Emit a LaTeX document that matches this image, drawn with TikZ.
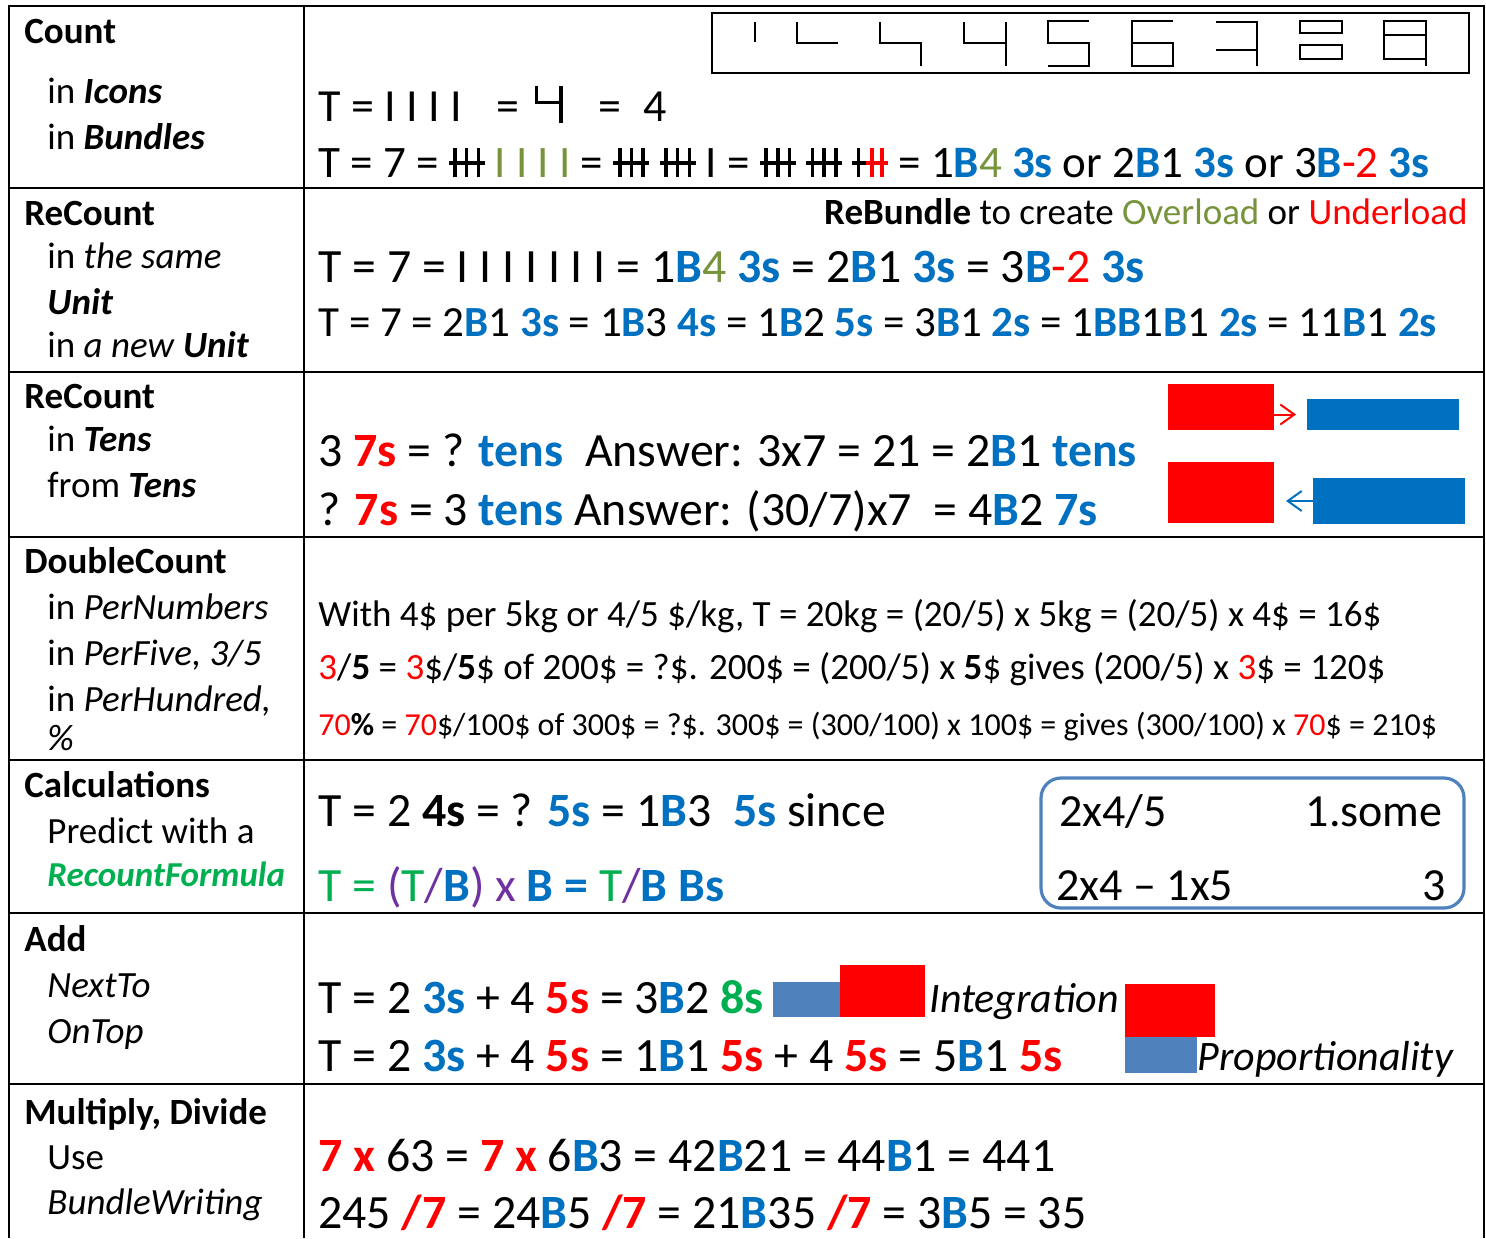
\documentclass[tikz,border=0pt]{standalone}
\usepackage{fontspec}
\setmainfont{Carlito}
\usetikzlibrary{arrows.meta}

\definecolor{tblue}{HTML}{0070C0}
\definecolor{tred}{HTML}{FF0000}
\definecolor{tgreen}{HTML}{00B050}
\definecolor{tolive}{HTML}{77933C}
\definecolor{tpurple}{HTML}{7030A0}
\definecolor{tsteel}{HTML}{4F81BD}

% coloured pieces of the equations
\newcommand\bB[1]{\textcolor{tblue}{\textbf{#1}}}
\newcommand\bR[1]{\textcolor{tred}{\textbf{#1}}}
\newcommand\bG[1]{\textcolor{tgreen}{\textbf{#1}}}
\newcommand\inred[1]{\textcolor{tred}{#1}}
\newcommand\inolive[1]{\textcolor{tolive}{#1}}
\newcommand\ingreen[1]{\textcolor{tgreen}{#1}}
\newcommand\inpurple[1]{\textcolor{tpurple}{#1}}

% bundle of strokes and the icon four
\newcommand\tallyfive{\rlap{\rule[0.27em]{0.8em}{0.08em}}\hspace{0.1em}%
  \rule{0.08em}{0.64em}\hspace{0.18em}\rule{0.08em}{0.64em}\hspace{0.18em}%
  \rule{0.08em}{0.64em}\hspace{0.1em}}
\newcommand\tallysplit{\rlap{\rule[0.27em]{0.3em}{0.08em}}\hspace{0.1em}%
  \rule{0.08em}{0.64em}\hspace{0.12em}\textcolor{tred}{%
  \rlap{\rule[0.27em]{0.5em}{0.08em}}\hspace{0.1em}\rule{0.08em}{0.64em}%
  \hspace{0.14em}\rule{0.08em}{0.64em}}\hspace{0.1em}}
\newcommand\fouricon{\rlap{\rule[0.36em]{0.07em}{0.41em}}%
  \rlap{\rule[0.36em]{0.6em}{0.07em}}\hspace{0.53em}%
  \rule[-0.05em]{0.07em}{0.82em}}

\tikzset{
  grid/.style={line width=1.1pt},
  icon/.style={line width=1pt},
  lefthead/.style={anchor=base west, inner sep=0pt,
    font=\fontsize{18.5}{22}\selectfont\bfseries},
  leftsub/.style={anchor=base west, inner sep=0pt,
    font=\fontsize{18.5}{22}\selectfont},
  eqn/.style={anchor=base west, inner sep=0pt,
    font=\fontsize{21.5}{26}\selectfont},
  eqnbig/.style={anchor=base west, inner sep=0pt,
    font=\fontsize{23.9}{28}\selectfont},
  pertxt/.style={anchor=base west, inner sep=0pt,
    font=\fontsize{18.5}{22}\selectfont},
  pertxtsm/.style={anchor=base west, inner sep=0pt,
    font=\fontsize{16}{19}\selectfont},
  boxtxt/.style={inner sep=0pt, font=\fontsize{23}{27}\selectfont},
  slanttxt/.style={anchor=base west, inner sep=0pt,
    font=\fontsize{21}{25}\selectfont\itshape},
  block/.style={inner sep=0pt, outer sep=0pt},
  arr/.style={-{Straight Barb[length=7pt, width=10pt]}, line width=1pt},
}

\begin{document}
\begin{tikzpicture}[x=0.5pt, y=-0.5pt]
  \useasboundingbox (0,0) rectangle (1486,1238);

  % table
  \draw [grid] (9,1238) -- (9,6) -- (1484,6) -- (1484,1238);
  \draw [grid] (304,6) -- (304,1238);
  \draw [grid] (9,188) -- (1484,188);
  \draw [grid] (9,372) -- (1484,372);
  \draw [grid] (9,537) -- (1484,537);
  \draw [grid] (9,760) -- (1484,760);
  \draw [grid] (9,913) -- (1484,913);
  \draw [grid] (9,1084) -- (1484,1084);

  % left column
  \node [lefthead] (cnt) at (24,43) {Count};
  \node [leftsub] (cntIcons) at (47,103) {in \textbf{\textit{Icons}}};
  \node [leftsub] (cntBundles) at (47,149) {in \textbf{\textit{Bundles}}};

  \node [lefthead] (rc) at (24,225) {ReCount};
  \node [leftsub] (rcSame) at (47,268) {in \textit{the same}};
  \node [leftsub] (rcUnit) at (47,314) {\textbf{\textit{Unit}}};
  \node [leftsub] (rcNew) at (47,357) {in \textit{a new} \textbf{\textit{Unit}}};

  \node [lefthead] (rt) at (24,408) {ReCount};
  \node [leftsub] (rtIn) at (47,451) {in \textbf{\textit{Tens}}};
  \node [leftsub] (rtFrom) at (47,497) {from \textbf{\textit{Tens}}};

  \node [lefthead] (dc) at (24,573) {DoubleCount};
  \node [leftsub] (dcPer) at (47,619) {in \textit{PerNumbers}};
  \node [leftsub] (dcFive) at (47,665) {in \textit{PerFive, 3/5}};
  \node [leftsub] (dcHund) at (47,711) {in \textit{PerHundred,}};
  \node [leftsub] (dcPct) at (47,750) {\textit{\%}};

  \node [lefthead] (calc) at (24,797) {Calculations};
  \node [leftsub] (calcPredict) at (47,843) {Predict with a};
  \node [leftsub, font=\fontsize{17.5}{21}\selectfont] (calcFormula) at (47,886)
    {\textcolor{tgreen}{\textbf{\textit{RecountFormula}}}};

  \node [lefthead] (add) at (24,951) {Add};
  \node [leftsub] (addNext) at (47,997) {\textit{NextTo}};
  \node [leftsub] (addTop) at (47,1043) {\textit{OnTop}};

  \node [lefthead] (mul) at (24,1124) {Multiply, Divide};
  \node [leftsub] (mulUse) at (47,1169) {Use};
  \node [leftsub] (mulWrite) at (47,1214) {\textit{BundleWriting}};

  % icon box
  \draw [grid] (712,13) rectangle (1469,73);
  \draw [icon] (755,22) -- (755,42);
  \draw [icon] (797,22) -- (797,43) -- (838,43);
  \draw [icon] (880,22) -- (880,43) -- (921,43) -- (921,66);
  \draw [icon] (964,22) -- (964,43) -- (1006,43);
  \draw [icon] (1006,22) -- (1006,66);
  \draw [icon] (1089,21) -- (1048,21) -- (1048,43) -- (1089,43)
    -- (1089,66) -- (1048,66);
  \draw [icon] (1173,21) -- (1132,21) -- (1132,66) -- (1173,66)
    -- (1173,43) -- (1132,43);
  \draw [icon] (1216,22) -- (1257,22) -- (1257,66);
  \draw [icon] (1216,50) -- (1257,50);
  \draw [icon] (1300,21) rectangle (1342,33);
  \draw [icon] (1300,45) rectangle (1342,59);
  \draw [icon] (1384,21) rectangle (1426,35);
  \draw [icon] (1384,35) -- (1384,59) -- (1426,59);
  \draw [icon] (1426,35) -- (1426,66);

  % count
  \node [eqn, font=\fontsize{23}{27}\selectfont] (cntA) at (318,121)
    {T = I I I I\hspace{17pt}=\hspace{8pt}\fouricon\hspace{18pt}=\hspace{11pt}4};
  \node [eqn, font=\fontsize{22.5}{27}\selectfont] (cntB) at (318,177)
    {T = 7 = \tallyfive\ \inolive{I I I I} = \tallyfive\ \tallyfive\ I =
     \tallyfive\ \tallyfive\ \tallysplit\ = 1\bB{B}\inolive{4} \bB{3s} or
     2\bB{B}1 \bB{3s} or 3\bB{B}\inred{-2} \bB{3s}};

  % recount
  \node [pertxt, anchor=base east] (rcNote) at (1468,224)
    {\textbf{ReBundle} to create \inolive{Overload} or \inred{Underload}};
  \node [eqnbig] (rcA) at (318,282)
    {T = 7 = I I I I I I I = 1\bB{B}\inolive{4} \bB{3s} = 2\bB{B}1 \bB{3s}
     = 3\bB{B}\inred{-2} \bB{3s}};
  \node [eqn] (rcB) at (318,336)
    {T = 7 = 2\bB{B}1 \bB{3s} = 1\bB{B}3 \bB{4s} = 1\bB{B}2 \bB{5s}
     = 3\bB{B}1 \bB{2s} = 1\bB{BB}1\bB{B}1 \bB{2s} = 11\bB{B}1 \bB{2s}};

  % recount in tens
  \node [eqnbig] (rtA) at (318,466)
    {3 \bR{7s} = ? \bB{tens}\ \ Answer: 3x7 = 21 = 2\bB{B}1 \bB{tens}};
  \node [eqnbig] (rtB) at (318,525)
    {? \bR{7s} = 3 \bB{tens} Answer: (30/7)x7\ \ = 4\bB{B}2 \bB{7s}};

  \node [block, fill=tred, minimum width=53pt, minimum height=23pt]
    (sevA) at (1221,407) {};
  \node [block, fill=tblue, minimum width=76pt, minimum height=15.5pt]
    (tenA) at (1383,414.5) {};
  \draw [arr, tred] (sevA.east |- tenA.west) -- ([xshift=-5.5pt]tenA.west);

  \node [block, fill=tred, minimum width=53pt, minimum height=30.5pt]
    (sevB) at (1221,492.5) {};
  \node [block, fill=tblue, minimum width=76pt, minimum height=23pt]
    (tenB) at (1389,501) {};
  \draw [arr, tblue] (tenB.west) -- ([xshift=6pt]sevB.east |- tenB.west);

  % double count
  \node [pertxt] (dcA) at (318,626)
    {With 4\$ per 5kg or 4/5 \$/kg, T = 20kg = (20/5) x 5kg = (20/5) x 4\$ = 16\$};
  \node [pertxt] (dcB) at (318,679)
    {\inred{3}/\textbf{5} = \inred{3}\$/\textbf{5}\$ of 200\$ = ?\$. 200\$ =
     (200/5) x \textbf{5}\$ gives (200/5) x \inred{3}\$ = 120\$};
  \node [pertxtsm] (dcC) at (318,735)
    {\inred{70}\textbf{\%} = \inred{70}\$/100\$ of 300\$ = ?\$. 300\$ =
     (300/100) x 100\$ = gives (300/100) x \inred{70}\$ = 210\$};

  % calculations
  \node [eqnbig] (calcA) at (318,826)
    {T = 2 \textbf{4s} = ? \bB{5s} = 1\bB{B}3\ \ \bB{5s} since};
  \node [eqnbig] (calcB) at (318,901)
    {\ingreen{T =} \inpurple{(}\ingreen{T}\inpurple{/}\bB{B}\inpurple{) x}
     \bB{B =} \ingreen{T}\inpurple{/}\bB{B Bs}};

  \draw [tsteel, line width=1.6pt, rounded corners=10pt]
    (1041,778) rectangle (1464,908);
  \node [boxtxt, anchor=base west] (quot) at (1059,826) {2x4/5};
  \node [boxtxt, anchor=base east] (quotRes) at (1443,826) {1.some};
  \node [boxtxt, anchor=base west] (rest) at (1056,900) {2x4 -- 1x5};
  \node [boxtxt, anchor=base east] (restRes) at (1446,900) {3};

  % add
  \node [eqnbig] (addA) at (318,1013)
    {T = 2 \bB{3s} + 4 \bR{5s} = 3\bB{B}2 \bG{8s}};
  \node [eqnbig] (addB) at (318,1071)
    {T = 2 \bB{3s} + 4 \bR{5s} = 1\bB{B}1 \bR{5s} + 4 \bR{5s} = 5\bB{B}1 \bR{5s}};

  \node [block, fill=tsteel, minimum width=33.5pt, minimum height=17.5pt]
    (nextBlue) at (806.5,999.5) {};
  \node [block, fill=tred, minimum width=42.5pt, minimum height=26pt]
    (nextRed) at (882.5,991) {};
  \node [slanttxt] (integ) at (929,1012) {Integration};
  \node [block, fill=tred, minimum width=45pt, minimum height=26.5pt]
    (topRed) at (1170,1010.5) {};
  \node [block, fill=tsteel, minimum width=36pt, minimum height=18pt]
    (topBlue) at (1161,1055) {};
  \node [slanttxt] (prop) at (1197,1070) {Proportionality};

  % multiply, divide
  \node [eqnbig] (mulA) at (318,1171)
    {\bR{7 x} 63 = \bR{7 x} 6\bB{B}3 = 42\bB{B}21 = 44\bB{B}1 = 441};
  \node [eqnbig] (mulB) at (318,1228)
    {245 \bR{/7} = 24\bB{B}5 \bR{/7} = 21\bB{B}35 \bR{/7} = 3\bB{B}5 = 35};

\end{tikzpicture}
\end{document}
